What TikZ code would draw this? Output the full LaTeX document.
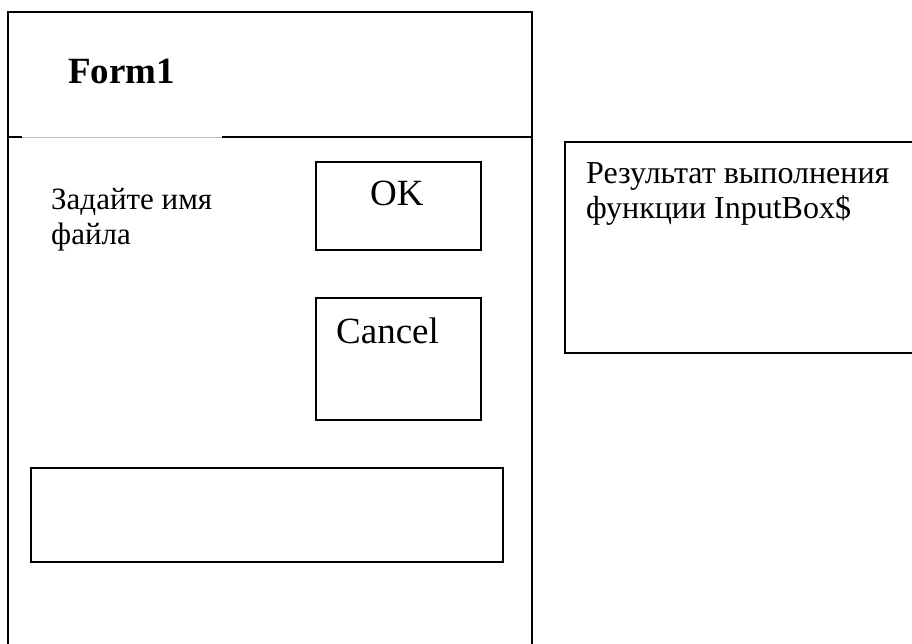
\documentclass[tikz,border=0pt]{standalone}
\usepackage{fontspec}
\setmainfont{Liberation Serif}
\begin{document}
\begin{tikzpicture}[x=1pt,y=-1pt,
  frame/.style={line width=1.6pt, black},
  btn/.style={draw, line width=1.6pt, inner sep=0, anchor=north west},
  lbl/.style={inner sep=0, anchor=base west, align=left},
  big/.style={font=\fontsize{37}{42}\selectfont}]
\clip (0,0) rectangle (912,643);
\fill[white] (0,0) rectangle (912,643);
% form outline
\coordinate (fbl) at (8,660);
\coordinate (ftl) at (8,12);
\coordinate (ftr) at (532,12);
\coordinate (fbr) at (532,660);
\draw[frame] (fbl) -- (ftl) -- (ftr) -- (fbr);
% title divider
\coordinate (d0) at (8,137);
\coordinate (d1) at (22,137);
\coordinate (d2) at (222,137);
\coordinate (d3) at (532,137);
\draw[frame] (d0) -- (d1);
\draw[gray!50, line width=0.8pt] (d1) -- (d2);
\draw[frame] (d2) -- (d3);
% title
\node[lbl, font=\fontsize{37}{42}\selectfont\bfseries] (title) at (68,83) {Form1};
% label (anchor at baseline of last line)
\node[lbl, font=\fontsize{31}{35.5}\selectfont] (prompt) at (51,244.5) {Задайте имя\\файла};
% buttons
\node[btn, minimum width=165, minimum height=88] (ok) at (315,161) {};
\node[lbl, big] (oktext) at (370,205) {OK};
\node[btn, minimum width=165, minimum height=122] (cancel) at (315,297) {};
\node[lbl, big] (canceltext) at (336,343) {Cancel};
% input box
\node[btn, minimum width=472, minimum height=94] (input) at (30,467) {};
% result box
\coordinate (rtr) at (930,142);
\coordinate (rtl) at (565,142);
\coordinate (rbl) at (565,353);
\coordinate (rbr) at (930,353);
\draw[frame] (rtr) -- (rtl) -- (rbl) -- (rbr);
\node[lbl, font=\fontsize{32}{35.5}\selectfont] (result) at (586,218.5) {Результат выполнения\\функции InputBox\$};
\end{tikzpicture}
\end{document}
